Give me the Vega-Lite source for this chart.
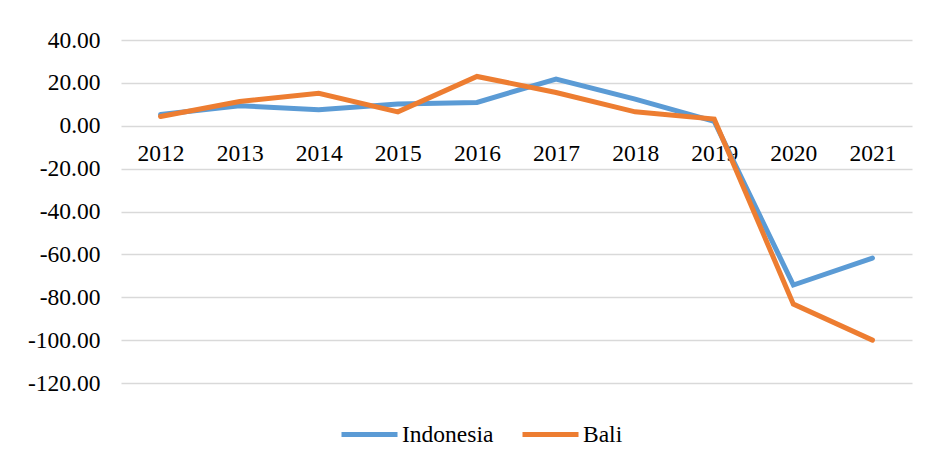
{
  "$schema": "https://vega.github.io/schema/vega-lite/v6.json",
  "autosize": {"type": "none"},
  "width": 791,
  "height": 343,
  "padding": {"left": 121, "top": 40, "right": 20, "bottom": 80},
  "background": "white",
  "config": {
    "view": {"stroke": null},
    "font": "Liberation Serif",
    "axis": {"labelFont": "Liberation Serif", "labelFontSize": 23.5, "labelColor": "#000000"},
    "legend": {"labelFont": "Liberation Serif", "labelFontSize": 23.5, "labelColor": "#000000"}
  },
  "data": {
    "values": [
      {"year": "2012", "region": "Indonesia", "value": 5.2},
      {"year": "2013", "region": "Indonesia", "value": 9.3},
      {"year": "2014", "region": "Indonesia", "value": 7.5},
      {"year": "2015", "region": "Indonesia", "value": 10.1},
      {"year": "2016", "region": "Indonesia", "value": 10.9},
      {"year": "2017", "region": "Indonesia", "value": 21.8},
      {"year": "2018", "region": "Indonesia", "value": 12.4},
      {"year": "2019", "region": "Indonesia", "value": 2.0},
      {"year": "2020", "region": "Indonesia", "value": -74.3},
      {"year": "2021", "region": "Indonesia", "value": -61.7},
      {"year": "2012", "region": "Bali", "value": 4.3},
      {"year": "2013", "region": "Bali", "value": 11.3},
      {"year": "2014", "region": "Bali", "value": 15.1},
      {"year": "2015", "region": "Bali", "value": 6.5},
      {"year": "2016", "region": "Bali", "value": 23.0},
      {"year": "2017", "region": "Bali", "value": 15.5},
      {"year": "2018", "region": "Bali", "value": 6.5},
      {"year": "2019", "region": "Bali", "value": 3.1},
      {"year": "2020", "region": "Bali", "value": -83.2},
      {"year": "2021", "region": "Bali", "value": -100.0}
    ]
  },
  "mark": {"type": "line", "strokeWidth": 5, "strokeCap": "round", "strokeJoin": "miter"},
  "encoding": {
    "x": {
      "field": "year",
      "type": "ordinal",
      "scale": {"type": "point", "padding": 0.5},
      "axis": {
        "title": null,
        "labelAngle": 0,
        "domain": false,
        "ticks": false,
        "grid": false,
        "offset": -258,
        "labelPadding": 16
      }
    },
    "y": {
      "field": "value",
      "type": "quantitative",
      "scale": {"domain": [-120, 40], "nice": false},
      "axis": {
        "title": null,
        "values": [-120, -100, -80, -60, -40, -20, 0, 20, 40],
        "labelExpr": "replace(format(datum.value, '.2f'), '\u2212', '-')",
        "domain": false,
        "ticks": false,
        "labelPadding": 21,
        "gridColor": "#d9d9d9",
        "gridWidth": 1.5
      }
    },
    "color": {
      "field": "region",
      "type": "nominal",
      "sort": ["Indonesia", "Bali"],
      "scale": {"domain": ["Indonesia", "Bali"], "range": ["#5b9bd5", "#ed7d31"]},
      "legend": {
        "title": null,
        "orient": "none",
        "legendX": 218,
        "legendY": 364,
        "direction": "horizontal",
        "symbolType": "stroke",
        "symbolSize": 3136,
        "symbolStrokeWidth": 5,
        "labelOffset": 2,
        "columnPadding": 18
      }
    }
  }
}
